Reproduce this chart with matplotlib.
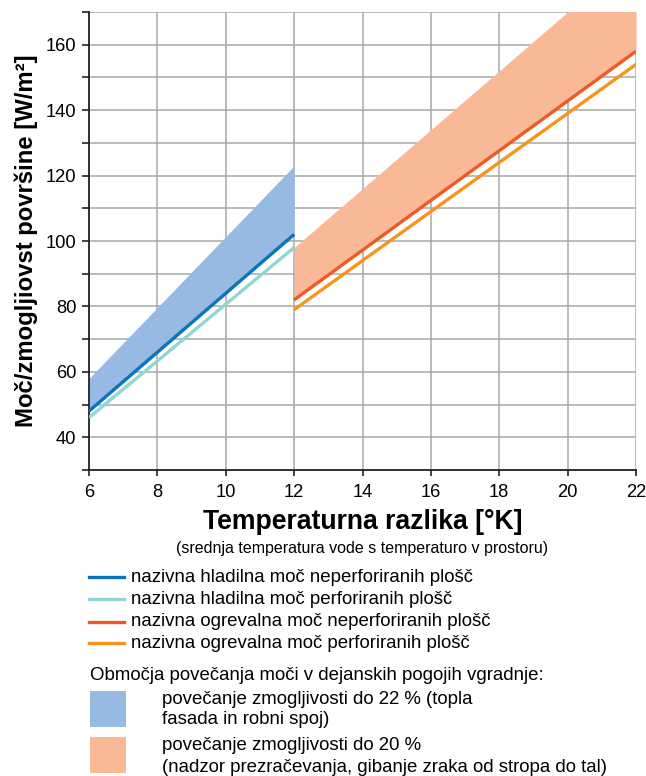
import matplotlib
matplotlib.use("Agg")
import matplotlib.pyplot as plt
from matplotlib.lines import Line2D
from matplotlib.patches import Rectangle

plt.rcParams['font.family'] = ['Liberation Sans', 'DejaVu Sans']

# Data
cool_x = [6, 12]
cool_nonperf = [48, 102]
cool_perf = [46, 98]
cool_band_upper = [58, 123]

heat_x = [12, 22]
heat_nonperf = [82, 158]
heat_perf = [79, 154]
heat_band_upper = [98, 188]

x_ticks = [6, 8, 10, 12, 14, 16, 18, 20, 22]
y_ticks = [40, 60, 80, 100, 120, 140, 160]

series_labels = [
    "nazivna hladilna moč neperforiranih plošč",
    "nazivna hladilna moč perforiranih plošč",
    "nazivna ogrevalna moč neperforiranih plošč",
    "nazivna ogrevalna moč perforiranih plošč",
]
c_blue = "#0A74BC"
c_teal = "#92D5D3"
c_red = "#EE5A26"
c_orange = "#F7941E"
c_band_blue = "#97BAE2"
c_band_orange = "#F9B996"
series_colors = [c_blue, c_teal, c_red, c_orange]

W, H = 646, 776
fig = plt.figure(figsize=(W / 100, H / 100), dpi=100)
ax = fig.add_axes([89 / W, 1 - 470 / H, (636 - 89) / W, (470 - 12) / H])

ax.fill_between(cool_x, cool_nonperf, cool_band_upper, color=c_band_blue, lw=0, zorder=2)
ax.fill_between(heat_x, heat_nonperf, heat_band_upper, color=c_band_orange, lw=0, zorder=2)
ax.plot(cool_x, cool_perf, color=c_teal, lw=2.4, zorder=3, solid_capstyle='butt')
ax.plot(cool_x, cool_nonperf, color=c_blue, lw=2.4, zorder=4, solid_capstyle='butt')
ax.plot(heat_x, heat_perf, color=c_orange, lw=2.4, zorder=3, solid_capstyle='butt')
ax.plot(heat_x, heat_nonperf, color=c_red, lw=2.4, zorder=4, solid_capstyle='butt')

ax.set_xlim(6, 22)
ax.set_ylim(30, 170)
ax.set_xticks(x_ticks)
ax.set_xticklabels([str(v) for v in x_ticks], fontsize=13.2)
ax.set_yticks(y_ticks)
ax.set_yticklabels([str(v) for v in y_ticks], fontsize=13.2)
ax.set_yticks(range(30, 171, 10), minor=True)

ax.grid(True, which='major', axis='x', color='#A8A8A8', lw=1.1, zorder=1)
ax.grid(True, which='both', axis='y', color='#A8A8A8', lw=1.1, zorder=1)
ax.set_axisbelow(True)

ax.spines['top'].set_visible(False)
ax.spines['right'].set_visible(False)
ax.spines['left'].set_color('#222222')
ax.spines['bottom'].set_color('#222222')
ax.spines['left'].set_linewidth(1.3)
ax.spines['bottom'].set_linewidth(1.3)
ax.tick_params(axis='both', which='both', direction='out', color='#222222', width=1.2)
ax.tick_params(axis='x', length=4, pad=6)
ax.tick_params(axis='y', which='major', length=5, pad=4)
ax.tick_params(axis='y', which='minor', length=5)

ax.set_ylabel("Moč/zmogljiovst površine [W/m²]", fontsize=17.2, fontweight='bold', labelpad=6)

fig.text((89 + 636) / 2 / W, 1 - 522 / H, "Temperaturna razlika [°K]", fontsize=19.2,
         fontweight='bold', ha='center', va='center')
fig.text((89 + 636) / 2 / W, 1 - 548 / H,
         "(srednja temperatura vode s temperaturo v prostoru)",
         fontsize=11.5, ha='center', va='center')

# Legend (lines)
ys = [577, 599, 622, 643]
fs = 13.4
for lab, col, y in zip(series_labels, series_colors, ys):
    fig.add_artist(Line2D([89 / W, 124 / W], [1 - y / H, 1 - y / H], color=col, lw=2.4))
    fig.text(131 / W, 1 - y / H, lab, fontsize=fs, ha='left', va='center')

fig.text(90 / W, 1 - 675 / H, "Območja povečanja moči v dejanskih pogojih vgradnje:",
         fontsize=fs, ha='left', va='center')

fig.add_artist(Rectangle((90 / W, 1 - 727 / H), 36 / W, 36 / H, color=c_band_blue, lw=0))
fig.text(162 / W, 1 - 699 / H, "povečanje zmogljivosti do 22 % (topla", fontsize=fs, ha='left', va='center')
fig.text(162 / W, 1 - 720 / H, "fasada in robni spoj)", fontsize=fs, ha='left', va='center')

fig.add_artist(Rectangle((90 / W, 1 - 773 / H), 36 / W, 36 / H, color=c_band_orange, lw=0))
fig.text(162 / W, 1 - 745 / H, "povečanje zmogljivosti do 20 %", fontsize=fs, ha='left', va='center')
fig.text(162 / W, 1 - 767 / H, "(nadzor prezračevanja, gibanje zraka od stropa do tal)", fontsize=fs,
         ha='left', va='center')

fig.savefig("out.png", dpi=100)
